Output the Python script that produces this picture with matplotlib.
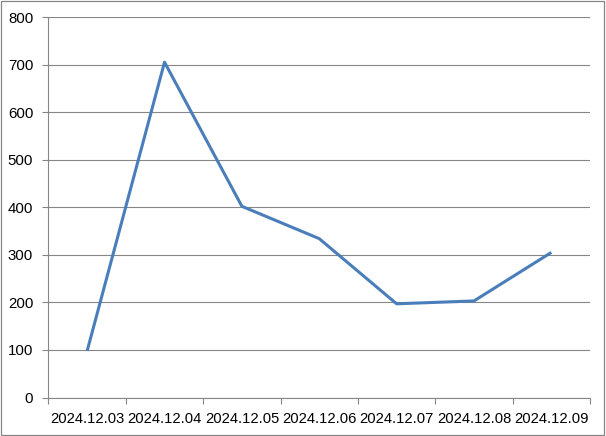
import matplotlib
matplotlib.use("Agg")
import matplotlib.pyplot as plt
from matplotlib.patches import Rectangle

categories = ["2024.12.03", "2024.12.04", "2024.12.05", "2024.12.06",
              "2024.12.07", "2024.12.08", "2024.12.09"]
values = [98, 705, 402, 334, 197, 203, 305]

plt.rcParams['font.family'] = ['Liberation Sans', 'DejaVu Sans']

fig = plt.figure(figsize=(6.06, 4.36), dpi=100)
ax = fig.add_axes([0.080, 0.0883, 0.8936, 0.8727])

x = list(range(len(categories)))
ax.plot(x, values, color='#4A7EBB', linewidth=2.2, solid_capstyle='butt', zorder=3)

ax.set_xlim(-0.5, len(categories) - 0.5)
ax.set_ylim(0, 800)
ax.set_yticks(range(0, 801, 100))
ax.yaxis.grid(True, color='#868686', linewidth=0.8)
ax.set_axisbelow(True)

ax.set_xticks([i - 0.5 for i in range(len(categories) + 1)])
ax.set_xticklabels([])
ax.set_xticks(x, minor=True)
ax.set_xticklabels(categories, minor=True, fontsize=10.6)
ax.tick_params(axis='x', which='minor', length=0, pad=10.5)
ax.tick_params(axis='x', which='major', length=4, color='#868686', width=0.8)
ax.tick_params(axis='y', length=4, color='#868686', width=0.8, pad=7, labelsize=10.8)

for s in ['top', 'right']:
    ax.spines[s].set_visible(False)
for s in ['left', 'bottom']:
    ax.spines[s].set_color('#868686')
    ax.spines[s].set_linewidth(0.8)

fig.patches.append(Rectangle((0.002, 0.003), 0.995, 0.994, transform=fig.transFigure,
                             fill=False, edgecolor='#868686', linewidth=0.9))

fig.savefig("out.png", dpi=100)
